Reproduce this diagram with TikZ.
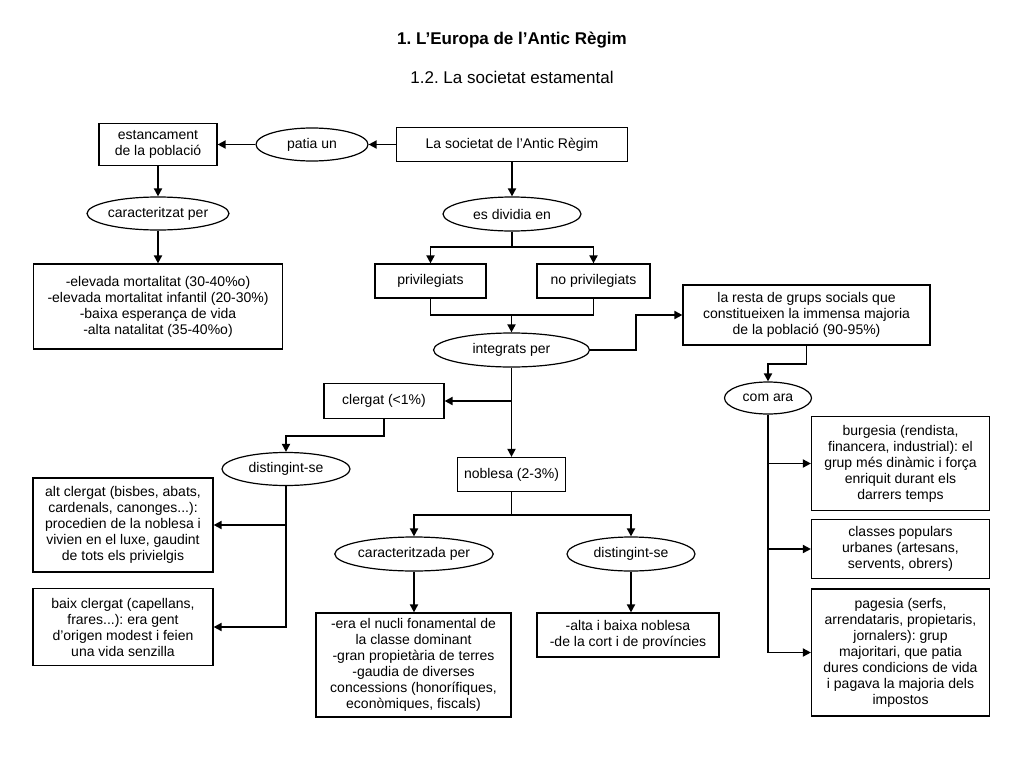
\documentclass[tikz,border=0pt]{standalone}
\usepackage{fontspec}
\setmainfont{Liberation Sans}
\usetikzlibrary{shapes.geometric,arrows.meta}
\frenchspacing
\begin{document}
\begin{tikzpicture}[x=1pt,y=-1pt,
  box/.style={draw, line width=1.2pt, rectangle, inner sep=0pt, align=center, font=\fontsize{14}{16}\selectfont},
  ell/.style={draw, line width=1.2pt, ellipse, inner sep=0pt, align=center, font=\fontsize{14}{16}\selectfont},
  arr/.style={line width=1.8pt, -{Triangle[length=8pt,width=8pt]}},
  ln/.style={line width=1.8pt}]
\useasboundingbox (0,0) rectangle (1024,768);
\fill[white] (0,0) rectangle (1024,768);
% titles
\node[anchor=base, inner sep=0pt, font=\fontsize{17}{20}\selectfont\bfseries] (t1) at (512,45) {1. L’Europa de l’Antic Règim};
\node[anchor=base, inner sep=0pt, font=\fontsize{17}{20}\selectfont] (t2) at (512,83) {1.2. La societat estamental};
% nodes
\node[box, minimum width=231pt, minimum height=34pt] (soc) at (512,144.5) {La societat de l’Antic Règim};
\node[ell, minimum width=112pt, minimum height=33pt] (patia) at (312,144.5) {patia un};
\node[box, minimum width=118pt, minimum height=42pt] (estanc) at (158,144.5) {estancament\\de la població};
\node[ell, minimum width=136pt, minimum height=33pt] (caract) at (158,213.5) {caracteritzat per};
\node[box, minimum width=249pt, minimum height=85pt] (elev) at (158,306.5) {-elevada mortalitat (30-40\%o)\\-elevada mortalitat infantil (20-30\%)\\-baixa esperança de vida\\-alta natalitat (35-40\%o)};
\node[ell, minimum width=138pt, minimum height=34pt] (divid) at (512,214) {es dividia en};
\node[box, minimum width=111pt, minimum height=34pt] (priv) at (430.5,281) {privilegiats};
\node[box, minimum width=113pt, minimum height=34pt] (nopriv) at (593.5,281) {no privilegiats};
\node[ell, minimum width=156pt, minimum height=34pt] (integ) at (511.5,350) {integrats per};
\node[box, minimum width=247pt, minimum height=60pt] (resta) at (806.5,315) {la resta de grups socials que\\constitueixen la immensa majoria\\de la població (90-95\%)};
\node[ell, minimum width=87pt, minimum height=32pt] (comara) at (768,398) {com ara};
\node[box, minimum width=178pt, minimum height=94pt] (burg) at (900.5,463.5) {burgesia (rendista,\\financera, industrial): el\\grup més dinàmic i força\\enriquit durant els\\darrers temps};
\node[box, minimum width=178pt, minimum height=59pt] (class) at (900.5,549) {classes populars\\urbanes (artesans,\\servents, obrers)};
\node[box, minimum width=178pt, minimum height=127pt] (pages) at (900.5,652.5) {pagesia (serfs,\\arrendataris, propietaris,\\jornalers): grup\\majoritari, que patia\\dures condicions de vida\\i pagava la majoria dels\\impostos};
\node[box, minimum width=120pt, minimum height=35pt] (clerg) at (384,401) {clergat (<1\%)};
\node[ell, minimum width=128pt, minimum height=33pt] (distL) at (286,469) {distingint-se};
\node[box, minimum width=180pt, minimum height=94pt] (alt) at (123,525) {alt clergat (bisbes, abats,\\cardenals, canonges...):\\procedien de la noblesa i\\vivien en el luxe, gaudint\\de tots els privielgis};
\node[box, minimum width=180pt, minimum height=77pt] (baix) at (123,627) {baix clergat (capellans,\\frares...): era gent\\d’origen modest i feien\\una vida senzilla};
\node[box, minimum width=108pt, minimum height=34pt] (nobl) at (511.5,474.5) {noblesa (2-3\%)};
\node[ell, minimum width=142pt, minimum height=34pt] (carz) at (414,554) {caracteritzada per};
\node[ell, minimum width=128pt, minimum height=34pt] (distR) at (631,554) {distingint-se};
\node[box, minimum width=195pt, minimum height=104pt] (nucli) at (413.5,665) {-era el nucli fonamental de\\la classe dominant\\-gran propietària de terres\\-gaudia de diverses\\concessions (honorífiques,\\econòmiques, fiscals)};
\node[box, minimum width=182pt, minimum height=44pt] (alta) at (628,635) {-alta i baixa noblesa\\-de la cort i de províncies};
% connectors
\draw[arr] (soc.west) -- (patia.east);
\draw[arr] (patia.west) -- (estanc.east);
\draw[arr] (estanc.south) -- (estanc.south |- caract.north);
\draw[arr] (caract.south) -- (caract.south |- elev.north);
\draw[arr] (soc.south) -- (soc.south |- divid.north);
\coordinate (j1) at (512,247);
\draw[ln] (divid.south) -- (j1);
\draw[arr] (j1) -| (priv.north);
\draw[arr] (j1) -| (nopriv.north);
\coordinate (j2) at (511.5,315);
\draw[ln] (priv.south) |- (j2) -| (nopriv.south);
\draw[arr] (j2) -- (integ.north);
\draw[arr] (integ.east) -- ++(46,0) |- (resta.west);
\draw[arr] (resta.south) -- ++(0,18) -| (comara.north);
\draw[arr] (comara.south) |- (pages.west);
\draw[arr] (comara.south |- burg.west) -- (burg.west);
\draw[arr] (comara.south |- class.west) -- (class.west);
\draw[arr] (integ.south) -- (integ.south |- nobl.north);
\draw[arr] (integ.south |- clerg.east) -- (clerg.east);
\draw[arr] (clerg.south) -- ++(0,17) -| (distL.north);
\draw[arr] (distL.south) |- (baix.east);
\draw[arr] (distL.south |- alt.east) -- (alt.east);
\coordinate (j3) at (511.5,515);
\draw[ln] (nobl.south) -- (j3);
\draw[arr] (j3) -| (carz.north);
\draw[arr] (j3) -| (distR.north);
\draw[arr] (carz.south) -- (carz.south |- nucli.north);
\draw[arr] (distR.south) -- (distR.south |- alta.north);
\end{tikzpicture}
\end{document}
